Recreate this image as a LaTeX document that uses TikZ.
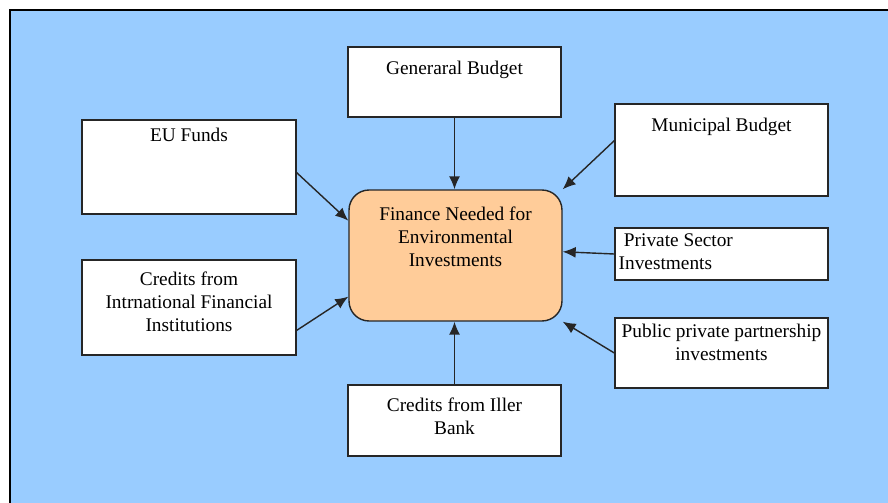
\documentclass[tikz,border=0pt]{standalone}
\usepackage{fontspec}
\setmainfont{Liberation Serif}
\usepackage{xcolor}
\usepackage{tikz}
\usetikzlibrary{arrows.meta,positioning}

\definecolor{skyBlue}{HTML}{99CCFF}
\definecolor{peach}{HTML}{FFCC99}

\tikzstyle{tsText} = [
    text=black,
    font=\fontsize{11}{13}\selectfont,
    inner sep=0pt,
    align=center
]
\tikzstyle{tsBox} = [
    rectangle,
    draw=black!85,
    fill=white,
    line width=0.8pt,
    inner sep=0pt,
    minimum width=4.26cm
]
\tikzstyle{tsGoal} = [
    tsBox,
    fill=peach,
    rounded corners=0.4cm,
    minimum height=2.62cm
]
\tikzstyle{tsArrow} = [
    draw=black!85,
    line width=0.8pt,
    -{Latex[length=2.6mm,width=2.2mm]}
]

\begin{document}
\begin{tikzpicture}[x=0.02cm, y=-0.02cm]

        % page frame and background
        \useasboundingbox (0,0) rectangle (888,503);
        \clip (0,0) rectangle (888,503);
        \draw[fill=skyBlue, draw=black, line width=1pt] (10,10) rectangle (900,520);

        % the boxes
        \node[tsGoal] (fin) at (455.5,255.5) { };
        \node[tsBox, minimum height=1.4cm] (gen) at (454.5,82) { };
        \node[tsBox, minimum width=4.28cm, minimum height=1.88cm] (eu) at (189,167) { };
        \node[tsBox, minimum height=1.84cm] (mun) at (721.5,150) { };
        \node[tsBox, minimum height=1.04cm] (priv) at (721.5,254) { };
        \node[tsBox, minimum height=1.4cm] (ppp) at (721.5,353) { };
        \node[tsBox, minimum width=4.28cm, minimum height=1.9cm] (intl) at (189,307.5) { };
        \node[tsBox, minimum height=1.42cm] (iller) at (454.5,420.5) { };

        % their texts
        \node[tsText, below=0.35cm of fin.north] (finText)
            {Finance Needed for\\Environmental\\Investments};
        \node[tsText, below=0.28cm of gen.north] (genText) {Generaral Budget};
        \node[tsText, below=0.17cm of eu.north] (euText) {EU Funds};
        \node[tsText, below=0.28cm of mun.north] (munText) {Municipal Budget};
        \node[tsText, align=left, below right=0.13cm and 0.08cm of priv.north west] (privText)
            {\hspace*{3pt}Private Sector\\Investments};
        \node[tsText, below=0.13cm of ppp.north] (pppText)
            {Public private partnership\\investments};
        \node[tsText, below=0.25cm of intl.north] (intlText)
            {Credits from\\Intrnational Financial\\Institutions};
        \node[tsText, below=0.27cm of iller.north] (illerText)
            {Credits from Iller\\Bank};

        % sources feeding the goal
        \draw[tsArrow] (gen.south) -- (gen.south |- fin.north);
        \draw[tsArrow] (eu.-3) -- (fin.162);
        \draw[tsArrow] (mun.175) -- (fin.north east);
        \draw[tsArrow] (priv.west) -- (fin.2);
        \draw[tsArrow] (ppp.west) -- (fin.south east);
        \draw[tsArrow] (intl.-12) -- (fin.201);
        \draw[tsArrow] (iller.north) -- (iller.north |- fin.south);

\end{tikzpicture}
\end{document}
